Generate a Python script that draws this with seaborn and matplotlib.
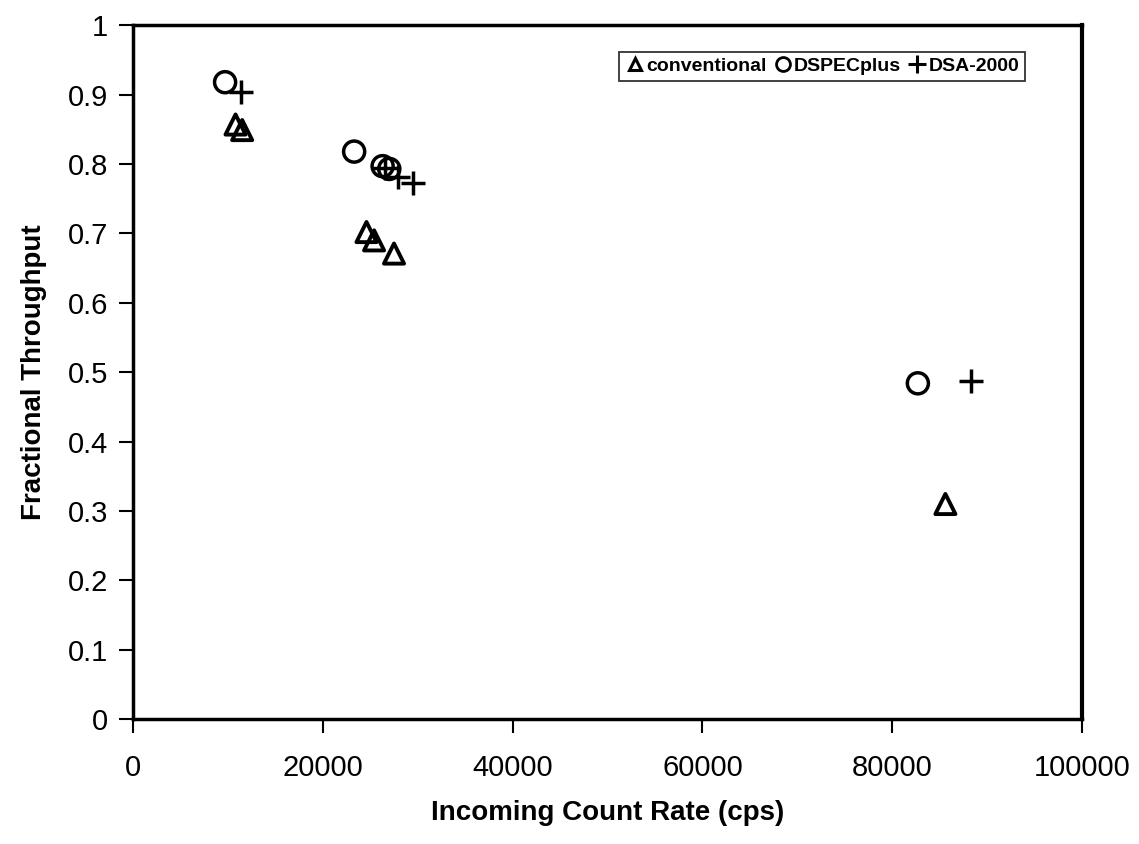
import matplotlib
matplotlib.use("Agg")
import matplotlib.pyplot as plt
from matplotlib.lines import Line2D
import seaborn as sns
import pandas as pd

# Incoming count rate (cps) and fractional throughput for each spectrometer
conv_rate = [10800, 11500, 24600, 25400, 27500, 85600]
conv_thru = [0.857, 0.849, 0.702, 0.690, 0.671, 0.310]

dspec_rate = [9700, 23300, 26300, 27000, 82700]
dspec_thru = [0.918, 0.818, 0.797, 0.793, 0.484]

dsa_rate = [11400, 26500, 27900, 29500, 88300]
dsa_thru = [0.904, 0.795, 0.781, 0.772, 0.487]

series_names = ["conventional", "DSPECplus", "DSA-2000"]
x_ticks = [0, 20000, 40000, 60000, 80000, 100000]
y_ticks = [0, 0.1, 0.2, 0.3, 0.4, 0.5, 0.6, 0.7, 0.8, 0.9, 1]

sns.set_style("white")
plt.rcParams["font.family"] = ["Liberation Sans", "DejaVu Sans"]
plt.rcParams["text.color"] = "black"
plt.rcParams["axes.labelcolor"] = "black"

fig = plt.figure(figsize=(11.39, 8.44), dpi=100)
ax = fig.add_axes([0.1168, 0.148, 0.8332, 0.822])

conv = pd.DataFrame({"rate": conv_rate, "thru": conv_thru})
dspec = pd.DataFrame({"rate": dspec_rate, "thru": dspec_thru})
dsa = pd.DataFrame({"rate": dsa_rate, "thru": dsa_thru})

sns.scatterplot(data=conv, x="rate", y="thru", marker="^", s=210,
                facecolors="none", edgecolor="black", linewidth=2.8, ax=ax)
sns.scatterplot(data=dspec, x="rate", y="thru", marker="o", s=230,
                facecolors="none", edgecolor="black", linewidth=2.5, ax=ax)
sns.scatterplot(data=dsa, x="rate", y="thru", marker="+", s=290,
                color="black", linewidth=2.5, ax=ax)

ax.set_xlim(0, 100000)
ax.set_ylim(0, 1)
ax.set_xticks(x_ticks)
ax.set_yticks(y_ticks)
ax.set_xticklabels([f"{v:d}" for v in x_ticks])
ax.set_yticklabels([f"{v:g}" for v in y_ticks])
ax.tick_params(axis="both", direction="out", length=10, width=1.5,
               labelsize=21, colors="black", bottom=True, left=True)
ax.tick_params(axis="x", pad=15)
ax.tick_params(axis="y", pad=8)

for side in ["left", "bottom", "top", "right"]:
    ax.spines[side].set_visible(True)
    ax.spines[side].set_color("black")
ax.spines["left"].set_linewidth(2.5)
ax.spines["bottom"].set_linewidth(2.5)
ax.spines["top"].set_linewidth(2.5)
ax.spines["right"].set_linewidth(3.0)

ax.set_xlabel("Incoming Count Rate (cps)", fontsize=20, fontweight="bold",
              labelpad=13, color="black")
ax.set_ylabel("Fractional Throughput", fontsize=20, fontweight="bold",
              labelpad=15, color="black")

handles = [
    Line2D([], [], linestyle="none", marker="^", markersize=9,
           markerfacecolor="none", markeredgecolor="black", markeredgewidth=2.2),
    Line2D([], [], linestyle="none", marker="o", markersize=10,
           markerfacecolor="none", markeredgecolor="black", markeredgewidth=2),
    Line2D([], [], linestyle="none", marker="+", markersize=13,
           color="black", markeredgewidth=2.2),
]
leg = ax.legend(handles, series_names, ncol=3, loc="upper right",
                bbox_to_anchor=(0.940, 0.962), frameon=True, fancybox=False,
                prop={"size": 14, "weight": "bold"}, handletextpad=0.1,
                columnspacing=0.3, handlelength=1.0, borderpad=0.3,
                borderaxespad=0.0)
leg.get_frame().set_edgecolor("black")
leg.get_frame().set_linewidth(1.3)

fig.savefig("out.png", dpi=100, facecolor="white")
